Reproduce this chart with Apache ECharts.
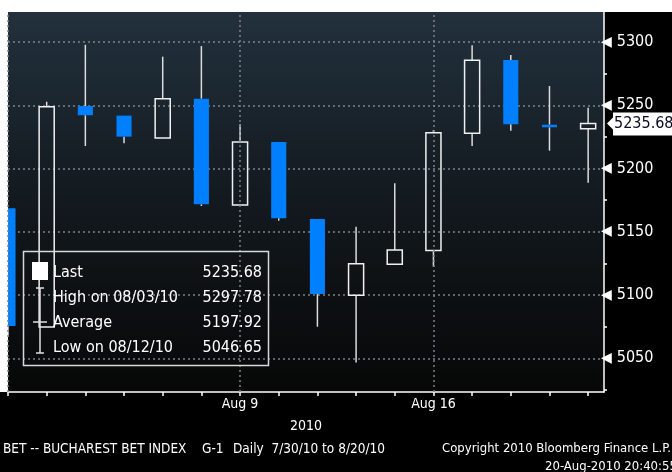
<!DOCTYPE html>
<html><head><meta charset="utf-8">
<script src="https://cdn.jsdelivr.net/npm/echarts@6/dist/echarts.min.js"></script>
<style>html,body{margin:0;padding:0;background:#fff;} #c{width:672px;height:472px;}</style>
</head><body><div id="c"></div>
<script>
// ---- data ----
const dates = ['7/30/10','8/2/10','8/3/10','8/4/10','8/5/10','8/6/10','8/9/10','8/10/10','8/11/10','8/12/10','8/13/10','8/16/10','8/17/10','8/18/10','8/19/10','8/20/10'];
const openP  = [5168.6, 5074.8, 5249.4, 5241.8, 5224.1, 5255.2, 5171.2, 5221.0, 5160.1, 5099.8, 5124.3, 5135.3, 5227.9, 5285.8, 5234.6, 5231.5];
const closeP = [5075.6, 5248.9, 5242.1, 5225.2, 5255.2, 5171.7, 5221.0, 5160.7, 5100.8, 5124.8, 5135.6, 5228.3, 5285.5, 5235.0, 5232.6, 5235.68];
const lowP   = [5067.0, 5074.8, 5217.8, 5219.9, 5224.1, 5170.4, 5171.2, 5158.8, 5075.0, 5046.65, 5124.3, 5122.4, 5217.8, 5229.9, 5214.1, 5188.8];
const highP  = [5168.6, 5252.8, 5297.78, 5241.8, 5288.4, 5296.8, 5235.0, 5221.0, 5160.1, 5154.0, 5188.3, 5230.5, 5297.5, 5289.7, 5265.2, 5248.1];
const xTickLabels = ['','','','','','','Aug 9','','','','','Aug 16','','','',''];
const weekLines = [0, 6, 11];
const yMin = 5023.4, yMax = 5323.7;
const xMin = 0, xMax = 15.41;
const legendLabels = ['Last','High on 08/03/10','Average','Low on 08/12/10'];
const legendValues = ['5235.68','5297.78','5197.92','5046.65'];
const lastValue = 5235.68;
const yearLabel = '2010';
const footerLeft = ['BET -- BUCHAREST BET INDEX','G-1','Daily  7/30/10 to 8/20/10'];
const footerRight = ['Copyright 2010 Bloomberg Finance L.P.','20-Aug-2010 20:40:55'];

// ---- chart ----
const FONT = "'DejaVu Sans Condensed','Liberation Sans Narrow',sans-serif";
const BLUE = '#0080ff';
const candleData = dates.map((d, i) => [i, openP[i], closeP[i], lowP[i], highP[i]]);

function renderItem(params, api) {
  const i = api.value(0), o = api.value(1), c = api.value(2), l = api.value(3), h = api.value(4);
  const up = c >= o;
  const top = api.coord([i, Math.max(o, c)]);
  const bot = api.coord([i, Math.min(o, c)]);
  const hi = api.coord([i, h]);
  const lo = api.coord([i, l]);
  const w = api.size([1, 0])[0] * 0.39;
  const x = top[0];
  const ch = [];
  if (hi[1] < top[1] - 0.5) ch.push({type: 'line', shape: {x1: x, y1: hi[1], x2: x, y2: top[1]}, style: {stroke: '#dcdcdc', lineWidth: 1.5}});
  if (lo[1] > bot[1] + 0.5) ch.push({type: 'line', shape: {x1: x, y1: bot[1], x2: x, y2: lo[1]}, style: {stroke: '#dcdcdc', lineWidth: 1.5}});
  const hgt = Math.max(bot[1] - top[1], 2.5);
  ch.push({type: 'rect', shape: {x: x - w / 2, y: top[1], width: w, height: hgt},
    style: up ? {fill: 'none', stroke: '#f0f0f0', lineWidth: 1.5} : {fill: BLUE, stroke: null}});
  return {type: 'group', children: ch};
}

const chart = echarts.init(document.getElementById('c'), null, {renderer: 'canvas'});
const bg = new echarts.graphic.LinearGradient(0, 0, 0, 1, [
  {offset: 0, color: '#22313d'}, {offset: 0.45, color: '#141b21'}, {offset: 1, color: '#070707'}]);

chart.setOption({
  animation: false,
  backgroundColor: '#ffffff',
  grid: {left: 8, top: 12, right: 68, bottom: 80, show: true, backgroundColor: bg, borderWidth: 0, containLabel: false},
  xAxis: {
    type: 'value', min: xMin, max: xMax, interval: 1,
    axisLine: {show: true, onZero: false, lineStyle: {color: '#ffffff', width: 1.5}},
    axisTick: {show: true, length: 4, lineStyle: {color: '#ffffff', width: 1.5}},
    splitLine: {show: false},
    axisLabel: {color: '#ffffff', fontSize: 14, fontFamily: FONT, margin: 5, showMaxLabel: false,
      formatter: v => xTickLabels[Math.round(v)] || ''},
    name: yearLabel, nameLocation: 'middle', nameGap: 27,
    nameTextStyle: {color: '#ffffff', fontSize: 14, fontFamily: FONT}
  },
  yAxis: {
    type: 'value', position: 'right', min: yMin, max: yMax,
    axisLine: {show: true, onZero: false, lineStyle: {color: '#ffffff', width: 1.5}},
    axisTick: {show: false},
    minorTick: {show: true, splitNumber: 2, length: 3, lineStyle: {color: '#ffffff', width: 1.5}},
    splitLine: {show: true, showMinLine: false, showMaxLine: false, lineStyle: {color: '#7d8389', type: [2, 3], width: 1.5}},
    axisLabel: {showMinLabel: false, showMaxLabel: false, margin: -3,
      formatter: v => '{t|◀}{v|' + v + '}',
      rich: {t: {fontSize: 14, color: '#ffffff', fontFamily: 'DejaVu Sans'},
             v: {fontSize: 16, color: '#ffffff', fontFamily: FONT, padding: [0, 0, 0, 5]}}}
  },
  series: [{
    type: 'custom', renderItem: renderItem, clip: true,
    encode: {x: 0, y: [1, 2, 3, 4]},
    data: candleData,
    markLine: {
      silent: true, symbol: 'none', label: {show: false},
      lineStyle: {color: '#7d8389', type: [2, 3], width: 1.5},
      data: weekLines.map(v => ({xAxis: v}))
    }
  }]
});

const yLast = chart.convertToPixel({yAxisIndex: 0}, lastValue);
const g = [];
g.push({type: 'rect', z: -1, shape: {x: 604, y: 12, width: 68, height: 460}, style: {fill: '#000000'}});
g.push({type: 'rect', z: -1, shape: {x: 0, y: 392, width: 672, height: 80}, style: {fill: '#000000'}});
// legend box
g.push({type: 'rect', z: 10, shape: {x: 23.5, y: 251.5, width: 245, height: 114}, style: {fill: 'none', stroke: '#d8d8d8', lineWidth: 1.5}});
g.push({type: 'rect', z: 10, shape: {x: 32, y: 262, width: 16, height: 18}, style: {fill: '#ffffff'}});
g.push({type: 'line', z: 10, shape: {x1: 36, y1: 288, x2: 44, y2: 288}, style: {stroke: '#e0e0e0', lineWidth: 1.5}});
g.push({type: 'line', z: 10, shape: {x1: 40, y1: 288, x2: 40, y2: 353}, style: {stroke: '#e0e0e0', lineWidth: 1.5}});
g.push({type: 'line', z: 10, shape: {x1: 33, y1: 322, x2: 47, y2: 322}, style: {stroke: '#e0e0e0', lineWidth: 1.5}});
g.push({type: 'line', z: 10, shape: {x1: 36, y1: 353, x2: 44, y2: 353}, style: {stroke: '#e0e0e0', lineWidth: 1.5}});
legendLabels.forEach((t, k) => {
  g.push({type: 'text', z: 10, x: 53, y: 273 + k * 25, style: {text: t, fill: '#ffffff', font: '16px ' + FONT, verticalAlign: 'middle', align: 'left'}});
  g.push({type: 'text', z: 10, x: 262, y: 273 + k * 25, style: {text: legendValues[k], fill: '#ffffff', font: '16px ' + FONT, verticalAlign: 'middle', align: 'right'}});
});
// last value tag
g.push({type: 'polygon', z: 10, shape: {points: [[607, yLast], [614, yLast - 7], [614, yLast + 7]]}, style: {fill: '#ffffff'}});
g.push({type: 'rect', z: 10, shape: {x: 613, y: yLast - 11, width: 62, height: 23}, style: {fill: '#ffffff'}});
g.push({type: 'text', z: 11, x: 614, y: yLast + 0.5, style: {text: String(lastValue), fill: '#0a0a20', font: '16px ' + FONT, verticalAlign: 'middle', align: 'left'}});
// footer
g.push({type: 'text', x: 3, y: 449, style: {text: footerLeft[0], fill: '#ffffff', font: '13.5px ' + FONT, verticalAlign: 'middle'}});
g.push({type: 'text', x: 202, y: 449, style: {text: footerLeft[1], fill: '#ffffff', font: '13.5px ' + FONT, verticalAlign: 'middle'}});
g.push({type: 'text', x: 233, y: 449, style: {text: footerLeft[2], fill: '#ffffff', font: '13.5px ' + FONT, verticalAlign: 'middle'}});
g.push({type: 'text', x: 671, y: 449, style: {text: footerRight[0], fill: '#ffffff', font: '13px ' + FONT, verticalAlign: 'middle', align: 'right'}});
g.push({type: 'text', x: 545, y: 467, style: {text: footerRight[1], fill: '#ffffff', font: '13px ' + FONT, verticalAlign: 'middle'}});
chart.setOption({graphic: g});
</script></body></html>
